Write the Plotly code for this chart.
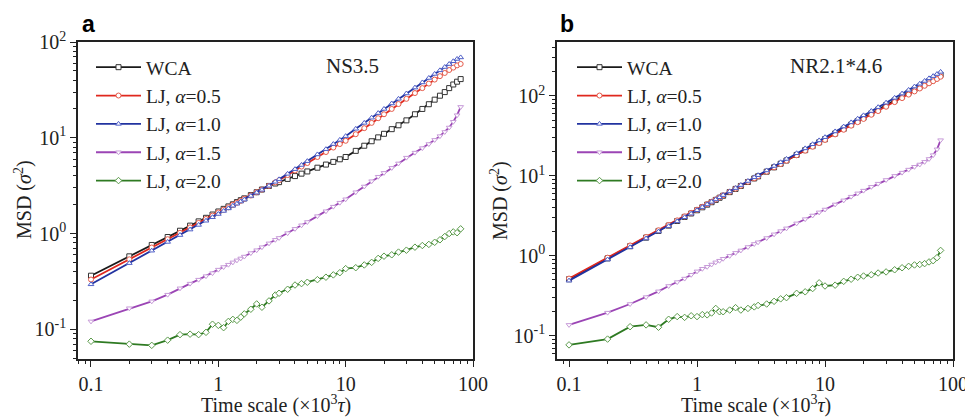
import plotly.graph_objects as go

# ---------------- data ----------------
time = [0.1, 0.2, 0.3, 0.4, 0.5, 0.6, 0.7, 0.8, 0.9, 1.0, 1.1, 1.2, 1.3, 1.4, 1.5, 1.6,
        1.8, 2.0, 2.2, 2.5, 2.8, 3.0, 3.5, 4.0, 4.5, 5, 6, 7, 8, 9, 10, 12, 14, 16, 18, 20,
        23, 26, 30, 35, 40, 45, 50, 55, 60, 65, 70, 75, 80]

series_names = ["WCA", "LJ, <i>α</i>=0.5", "LJ, <i>α</i>=1.0", "LJ, <i>α</i>=1.5", "LJ, <i>α</i>=2.0"]

# Panel a (NS3.5)
a_wca = [0.363, 0.578, 0.76, 0.92, 1.07, 1.21, 1.34, 1.46, 1.58, 1.70, 1.81, 1.92, 2.02, 2.13, 2.23, 2.33,
         2.52, 2.70, 2.88, 3.14, 3.33, 3.44, 3.72, 3.98, 4.22, 4.45, 4.87, 5.25, 5.6, 5.96, 6.3, 7.3, 8.26,
         9.2, 10.1, 11.0, 12.3, 13.5, 15.2, 17.6, 20.0, 22.4, 25.0, 27.5, 30.0, 33.0, 36.0, 38.5, 41.0]
a_lj05 = [0.331, 0.538, 0.715, 0.873, 1.02, 1.16, 1.29, 1.42, 1.54, 1.66, 1.77, 1.88, 2.0, 2.10, 2.20, 2.31,
          2.50, 2.70, 2.88, 3.15, 3.42, 3.60, 4.08, 4.55, 5.0, 5.45, 6.3, 7.1, 7.9, 8.6, 9.3, 10.9, 12.6,
          14.3, 16.0, 17.6, 20.0, 22.5, 25.5, 29.3, 33.0, 36.8, 40.5, 44.0, 47.5, 51.0, 54.0, 57.0, 59.0]
a_lj10 = [0.295, 0.491, 0.662, 0.817, 0.964, 1.10, 1.23, 1.36, 1.48, 1.60, 1.72, 1.83, 1.95, 2.05, 2.16, 2.26,
          2.47, 2.67, 2.86, 3.15, 3.47, 3.68, 4.2, 4.7, 5.2, 5.7, 6.7, 7.6, 8.6, 9.5, 10.4, 12.4, 14.3,
          16.2, 18.1, 20.0, 22.8, 25.5, 29.0, 33.4, 37.8, 42.1, 46.4, 50.6, 54.8, 58.9, 62.9, 66.5, 69.0]
a_lj15 = [0.121, 0.166, 0.196, 0.230, 0.268, 0.30, 0.33, 0.359, 0.386, 0.42, 0.447, 0.473, 0.50, 0.525, 0.55, 0.575,
          0.625, 0.67, 0.72, 0.79, 0.86, 0.90, 1.01, 1.12, 1.22, 1.32, 1.52, 1.71, 1.91, 2.10, 2.28, 2.70, 3.10,
          3.52, 3.92, 4.3, 4.85, 5.4, 6.2, 7.0, 7.8, 8.6, 9.5, 10.4, 11.5, 12.8, 14.7, 17.2, 21.0]
a_lj20 = [0.075, 0.070, 0.068, 0.077, 0.088, 0.089, 0.088, 0.093, 0.113, 0.110, 0.104, 0.121, 0.127, 0.124, 0.134, 0.145,
          0.162, 0.184, 0.170, 0.198, 0.228, 0.238, 0.262, 0.29, 0.30, 0.31, 0.33, 0.35, 0.37, 0.39, 0.43, 0.44, 0.47,
          0.50, 0.55, 0.58, 0.60, 0.64, 0.67, 0.72, 0.75, 0.77, 0.81, 0.86, 0.93, 1.0, 1.04, 1.02, 1.12]

# Panel b (NR2.1*4.6)
b_wca = [0.51, 0.93, 1.32, 1.69, 2.05, 2.39, 2.73, 3.07, 3.39, 3.72, 4.05, 4.37, 4.69, 5.01, 5.33, 5.65,
         6.27, 6.88, 7.49, 8.4, 9.3, 9.88, 11.3, 12.8, 14.2, 15.6, 18.3, 21.0, 23.6, 26.3, 28.8, 33.9, 38.9,
         43.8, 48.6, 53.5, 60.5, 67.5, 76.7, 88, 99, 110, 121, 131, 142, 153, 163, 173, 184]
b_lj05 = [0.52, 0.95, 1.35, 1.72, 2.09, 2.43, 2.78, 3.12, 3.45, 3.78, 4.11, 4.43, 4.75, 5.07, 5.39, 5.71,
          6.32, 6.93, 7.53, 8.43, 9.32, 9.89, 11.3, 12.8, 14.1, 15.5, 18.1, 20.7, 23.2, 25.8, 28.2, 33.1, 37.8,
          42.5, 47.0, 51.6, 58.2, 64.7, 73.3, 83.8, 94, 104, 114, 124, 134, 144, 153, 163, 174]
b_lj10 = [0.49, 0.90, 1.28, 1.65, 2.01, 2.35, 2.70, 3.04, 3.37, 3.72, 4.07, 4.40, 4.74, 5.08, 5.41, 5.75,
          6.40, 7.04, 7.68, 8.64, 9.6, 10.2, 11.7, 13.3, 14.8, 16.3, 19.2, 22.1, 24.9, 27.8, 30.5, 36.0, 41.4,
          46.7, 51.9, 57.2, 64.8, 72.4, 82.4, 94.7, 107, 119, 131, 142, 154, 166, 177, 188, 200]
b_lj15 = [0.137, 0.195, 0.25, 0.305, 0.36, 0.42, 0.47, 0.52, 0.58, 0.64, 0.69, 0.73, 0.78, 0.83, 0.87, 0.92,
          1.0, 1.09, 1.17, 1.29, 1.41, 1.48, 1.67, 1.86, 2.04, 2.21, 2.55, 2.88, 3.2, 3.5, 3.8, 4.4, 4.95,
          5.5, 6.05, 6.55, 7.3, 8.0, 8.9, 10.0, 11.0, 12.0, 13.0, 13.9, 15.0, 16.3, 18.2, 21.5, 28.0]
b_lj20 = [0.077, 0.091, 0.13, 0.137, 0.128, 0.161, 0.174, 0.17, 0.178, 0.174, 0.184, 0.183, 0.193, 0.22, 0.20, 0.20,
          0.21, 0.225, 0.21, 0.22, 0.23, 0.24, 0.25, 0.27, 0.29, 0.30, 0.34, 0.355, 0.39, 0.46, 0.42, 0.43, 0.48,
          0.51, 0.54, 0.56, 0.58, 0.61, 0.63, 0.67, 0.71, 0.74, 0.77, 0.78, 0.80, 0.84, 0.87, 0.95, 1.17]

x_tickvals = [0.1, 1, 10, 100]
x_ticktext = ["0.1", "1", "10", "100"]
y_tickvals = [0.1, 1, 10, 100]
y_ticktext = ["10<sup>-1</sup>", "10<sup>0</sup>", "10<sup>1</sup>", "10<sup>2</sup>"]

# ---------------- styles ----------------
line_colors = ["#1a1a1a", "#e0281e", "#2233a0", "#9b45b5", "#2e7a22"]
marker_colors = ["#333333", "#e55a4a", "#5060c8", "#c79bd8", "#5a9a4a"]
symbols = ["square", "circle", "triangle-up", "triangle-down", "diamond"]
SERIF = "Liberation Serif"
SANS = "Liberation Sans"

fig = go.Figure()

panels = [
    ([a_wca, a_lj05, a_lj10, a_lj15, a_lj20], "x", "y", "legend"),
    ([b_wca, b_lj05, b_lj10, b_lj15, b_lj20], "x2", "y2", "legend2"),
]
for data, xa, ya, lg in panels:
    for i, vals in enumerate(data):
        fig.add_trace(go.Scatter(
            x=time, y=vals, mode="lines+markers", name=series_names[i],
            xaxis=xa, yaxis=ya, legend=lg,
            line=dict(color=line_colors[i], width=1.8),
            marker=dict(symbol=symbols[i], size=5, color="white",
                        line=dict(color=marker_colors[i], width=1)),
        ))

W, H = 965, 419
def px(x):
    return x / W
def py(y):
    return 1 - y / H

minor_x = [v * m for v in (0.01, 0.1, 1, 10) for m in range(2, 10)]
minor_y = [v * m for v in (0.01, 0.1, 1, 10, 100) for m in range(2, 10)]

axis_common = dict(
    type="log", showgrid=False, zeroline=False, automargin=False,
    showline=True, linecolor="#222", linewidth=1.5, mirror=True,
    ticks="outside", ticklen=6, tickwidth=1.2, tickcolor="#222",
    ticklabeloverflow="allow",
    tickfont=dict(family=SERIF, size=20, color="#222"),
)
minor_style = dict(ticks="outside", ticklen=3.5, tickcolor="#222", tickwidth=1)

legend_common = dict(xanchor="left", yanchor="top", bgcolor="rgba(0,0,0,0)",
                     font=dict(family=SERIF, size=19.5, color="#222"), tracegroupgap=0, itemwidth=45)

fig.update_layout(
    template="none",
    width=W, height=H, margin=dict(l=0, r=0, t=0, b=0, autoexpand=False),
    paper_bgcolor="white", plot_bgcolor="white",
    font=dict(family=SERIF, size=20, color="#222"),
    xaxis=dict(axis_common, domain=[px(78), px(473)], range=[-1.102, 2.0],
               tickvals=x_tickvals, ticktext=x_ticktext, anchor="y",
               minor=dict(minor_style, tickvals=minor_x)),
    yaxis=dict(axis_common, domain=[py(359), py(42)], range=[-1.31, 2.0],
               tickvals=y_tickvals, ticktext=y_ticktext, anchor="x",
               minor=dict(minor_style, tickvals=minor_y)),
    xaxis2=dict(axis_common, domain=[px(557), px(953)], range=[-1.094, 2.0],
                tickvals=x_tickvals, ticktext=x_ticktext, anchor="y2",
                minor=dict(minor_style, tickvals=minor_x)),
    yaxis2=dict(axis_common, domain=[py(359), py(42)], range=[-1.29, 2.675],
                tickvals=y_tickvals, ticktext=y_ticktext, anchor="x2",
                minor=dict(minor_style, tickvals=minor_y)),
    legend=dict(legend_common, x=px(91), y=py(48)),
    legend2=dict(legend_common, x=px(572), y=py(48)),
    showlegend=True,
)

ann_font = dict(family=SERIF, size=20, color="#222")
annotations = [
    dict(text="<b>a</b>", x=px(80), y=py(24), xanchor="left", yanchor="middle",
         font=dict(family=SANS, size=23, color="black")),
    dict(text="<b>b</b>", x=px(558), y=py(24), xanchor="left", yanchor="middle",
         font=dict(family=SANS, size=23, color="black")),
    dict(text="NS3.5", x=px(352), y=py(66), xanchor="center", yanchor="middle", font=dict(family=SERIF, size=21, color="#222")),
    dict(text="NR2.1*4.6", x=px(836), y=py(66), xanchor="center", yanchor="middle", font=dict(family=SERIF, size=21, color="#222")),
    dict(text="MSD (<i>σ</i><sup>2</sup>)", x=px(24), y=py(200), textangle=-90, xanchor="center", yanchor="middle", font=ann_font),
    dict(text="MSD (<i>σ</i><sup>2</sup>)", x=px(500), y=py(200), textangle=-90, xanchor="center", yanchor="middle", font=ann_font),
    dict(text="Time scale (×10<sup>3</sup><i>τ</i>)", x=px(276), y=py(404), xanchor="center", yanchor="middle", font=ann_font),
    dict(text="Time scale (×10<sup>3</sup><i>τ</i>)", x=px(756), y=py(404), xanchor="center", yanchor="middle", font=ann_font),
]
for a in annotations:
    a.update(xref="paper", yref="paper", showarrow=False)
fig.update_layout(annotations=annotations)

fig.write_html("out.html", config={"displayModeBar": False},
               post_script="document.body.style.margin='0';document.body.style.overflow='hidden';")
